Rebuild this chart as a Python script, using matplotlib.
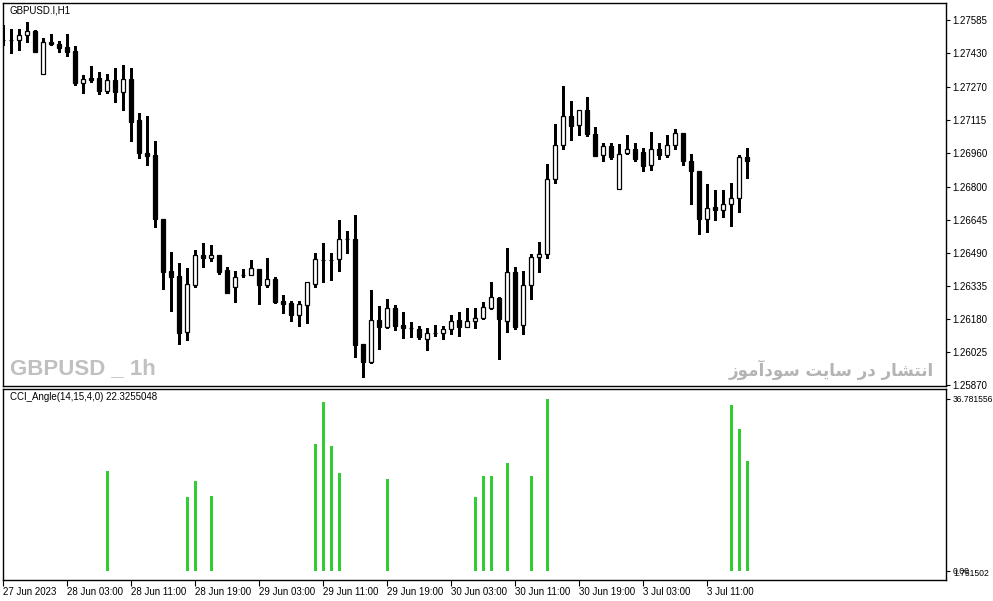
import matplotlib
matplotlib.use('Agg')
import matplotlib.pyplot as plt
import numpy as np

# GBPUSD H1 candles (bar 0 = 27 Jun 19:00)
opens = [1.27489, 1.27491, 1.27489, 1.27511, 1.27531, 1.27328, 1.27480, 1.27470, 1.27456, 1.27437,
         1.27287, 1.27311, 1.27311, 1.27251, 1.27301, 1.27246, 1.27306, 1.27113, 1.26958, 1.26950,
         1.26648, 1.26403, 1.26380, 1.26118, 1.26339, 1.26477, 1.26463, 1.26477, 1.26407, 1.26330,
         1.26383, 1.26383, 1.26413, 1.26339, 1.26364, 1.26262, 1.26253, 1.26198, 1.26245, 1.26344,
         1.26457, 1.26457, 1.26458, 1.26556, 1.26554, 1.26060, 1.25977, 1.26172, 1.26142, 1.26230,
         1.26150, 1.26134, 1.26129, 1.26082, 1.26111, 1.26111, 1.26129, 1.26172, 1.26142, 1.26167,
         1.26181, 1.26228, 1.26275, 1.26167, 1.26397, 1.26148, 1.26336, 1.26468, 1.26482, 1.26834,
         1.26994, 1.27131, 1.27088, 1.27159, 1.27046, 1.26947, 1.26990, 1.26787, 1.26957, 1.26975,
         1.26961, 1.26900, 1.26975, 1.26947, 1.26994, 1.27051, 1.26919, 1.26872, 1.26649, 1.26703,
         1.26689, 1.26717, 1.26745, 1.26938]
highs = [1.27560, 1.27539, 1.27539, 1.27574, 1.27536, 1.27499, 1.27519, 1.27483, 1.27519, 1.27462,
         1.27325, 1.27368, 1.27340, 1.27329, 1.27358, 1.27372, 1.27358, 1.27145, 1.27133, 1.27015,
         1.26649, 1.26493, 1.26441, 1.26418, 1.26502, 1.26536, 1.26527, 1.26478, 1.26424, 1.26403,
         1.26411, 1.26455, 1.26414, 1.26463, 1.26374, 1.26291, 1.26262, 1.26262, 1.26352, 1.26488,
         1.26536, 1.26488, 1.26643, 1.26591, 1.26667, 1.26061, 1.26316, 1.26239, 1.26273, 1.26242,
         1.26211, 1.26164, 1.26145, 1.26137, 1.26150, 1.26145, 1.26197, 1.26211, 1.26230, 1.26230,
         1.26258, 1.26352, 1.26281, 1.26510, 1.26421, 1.26402, 1.26482, 1.26538, 1.26905, 1.27093,
         1.27273, 1.27202, 1.27159, 1.27221, 1.27079, 1.27004, 1.27004, 1.26999, 1.27041, 1.27004,
         1.26980, 1.27055, 1.27004, 1.27041, 1.27069, 1.27052, 1.26952, 1.26873, 1.26811, 1.26783,
         1.26783, 1.26816, 1.26947, 1.26980]
lows = [1.27466, 1.27430, 1.27442, 1.27481, 1.27433, 1.27327, 1.27466, 1.27434, 1.27415, 1.27278,
        1.27241, 1.27293, 1.27235, 1.27241, 1.27199, 1.27162, 1.27016, 1.26936, 1.26903, 1.26612,
        1.26319, 1.26217, 1.26060, 1.26079, 1.26327, 1.26424, 1.26452, 1.26391, 1.26300, 1.26259,
        1.26374, 1.26383, 1.26250, 1.26330, 1.26254, 1.26207, 1.26170, 1.26146, 1.26160, 1.26330,
        1.26350, 1.26363, 1.26405, 1.26489, 1.26001, 1.25907, 1.25972, 1.26037, 1.26137, 1.26126,
        1.26090, 1.26095, 1.26084, 1.26034, 1.26098, 1.26085, 1.26109, 1.26099, 1.26141, 1.26137,
        1.26180, 1.26227, 1.25988, 1.26115, 1.26129, 1.26106, 1.26273, 1.26397, 1.26463, 1.26816,
        1.26975, 1.27018, 1.27041, 1.27037, 1.26943, 1.26919, 1.26928, 1.26787, 1.26952, 1.26919,
        1.26872, 1.26877, 1.26928, 1.26941, 1.26975, 1.26900, 1.26717, 1.26579, 1.26588, 1.26642,
        1.26659, 1.26614, 1.26682, 1.26839]
closes = [1.27489, 1.27491, 1.27513, 1.27530, 1.27434, 1.27478, 1.27472, 1.27453, 1.27434, 1.27288,
          1.27306, 1.27301, 1.27251, 1.27301, 1.27246, 1.27306, 1.27105, 1.26959, 1.26945, 1.26646,
          1.26400, 1.26377, 1.26113, 1.26341, 1.26477, 1.26463, 1.26477, 1.26400, 1.26301, 1.26374,
          1.26383, 1.26416, 1.26339, 1.26364, 1.26259, 1.26250, 1.26198, 1.26247, 1.26352, 1.26458,
          1.26457, 1.26457, 1.26552, 1.26553, 1.26057, 1.25977, 1.26172, 1.26142, 1.26230, 1.26146,
          1.26134, 1.26134, 1.26095, 1.26111, 1.26111, 1.26129, 1.26167, 1.26142, 1.26167, 1.26183,
          1.26233, 1.26280, 1.26176, 1.26397, 1.26142, 1.26336, 1.26468, 1.26482, 1.26834, 1.26994,
          1.27131, 1.27084, 1.27159, 1.27046, 1.26945, 1.26990, 1.26941, 1.26952, 1.26975, 1.26931,
          1.26898, 1.26975, 1.26947, 1.26994, 1.27051, 1.26919, 1.26872, 1.26649, 1.26698, 1.26689,
          1.26717, 1.26745, 1.26938, 1.26919]

# CCI_Angle histogram: only the bars that are drawn
cci_bars = [13, 23, 24, 26, 39, 40, 41, 42, 48, 59, 60, 61, 63, 66, 68, 91, 92, 93]
cci_vals = [21.4, 15.8, 19.2, 16.0, 27.1, 36.1, 26.7, 20.9, 19.6, 15.8, 20.3, 20.3, 23.1,
            20.3, 36.78, 35.5, 30.4, 23.5]

price_ticks = [1.27585, 1.27430, 1.27270, 1.27115, 1.26960, 1.26800, 1.26645, 1.26490,
               1.26335, 1.26180, 1.26025, 1.25870]
time_pos = [0, 8, 16, 24, 32, 40, 48, 56, 64, 72, 80, 88]
time_labels = ['27 Jun 2023', '28 Jun 03:00', '28 Jun 11:00', '28 Jun 19:00', '29 Jun 03:00',
               '29 Jun 11:00', '29 Jun 19:00', '30 Jun 03:00', '30 Jun 11:00', '30 Jun 19:00',
               '3 Jul 03:00', '3 Jul 11:00']

W, H = 993, 601
tick_font = dict(family=['Liberation Sans', 'DejaVu Sans'], size=7)
small_font = dict(tick_font, size=6.2)

fig = plt.figure(figsize=(W / 100, H / 100), dpi=100)
ax = fig.add_axes([2.5 / W, (H - 386) / H, 943.5 / W, 383.5 / H])
ax2 = fig.add_axes([2.5 / W, (H - 580) / H, 943.5 / W, 191 / H])

x = np.arange(len(opens))
o = np.array(opens)
c = np.array(closes)

''' candles '''
ax.vlines(x, lows, highs, color='black', linewidth=1, antialiased=False, zorder=2)
up = c > o
face = np.where(up, 'white', 'black')
ax.bar(x, np.abs(c - o), bottom=np.minimum(o, c), width=0.55, color=face,
       edgecolor='black', linewidth=0.9, zorder=3)

ax.set_xlim(-0.0625, 117.875)
ax.set_ylim(1.25863, 1.27665)
ax.yaxis.tick_right()
ax.set_yticks(price_ticks)
ax.set_yticklabels([f'{p:.5f}' for p in price_ticks], fontdict=tick_font)
ax.tick_params(axis='y', direction='out', length=3, width=0.8, pad=1.5)
ax.set_xticks([])

ax.text(7 / 943.5, 1 - 8 / 383.5, 'GBPUSD.I,H1', transform=ax.transAxes, ha='left', va='center',
        fontdict=tick_font)
ax.text(7 / 943.5, 1 - 366 / 383.5, 'GBPUSD _ 1h', transform=ax.transAxes, ha='left',
        va='center', color='#c0c0c0', fontsize=16, fontweight='bold',
        family=['Liberation Sans', 'DejaVu Sans'])

# Persian watermark in visual order (presentation forms)
fa_text = ('\uFEAF\uFEEE\uFEE3\uFE81\uFEA9\uFEEE\uFEB3 '
           '\uFE96\uFEF3\uFE8E\uFEB3 '
           '\uFEAD\uFEA9 '
           '\uFEAD\uFE8E\uFEB8\uFE98\uFEE7\uFE8D')
ax.text(931 / 943.5, 1 - 367 / 383.5, fa_text, transform=ax.transAxes, ha='right', va='center',
        color='#b4b4b4', fontsize=12, fontweight='bold', family=['DejaVu Sans'])

''' indicator pane '''
ax2.bar(cci_bars, cci_vals, width=0.375, color='#32cd32', linewidth=0)
ax2.set_xlim(-0.0625, 117.875)
ax2.set_ylim(-1.99, 38.92)
ax2.yaxis.tick_right()
ax2.set_yticks([36.781556, 0])
ax2.set_yticklabels(['36.781556', '0.00'], fontdict=small_font)
ax2.tick_params(axis='y', direction='out', length=3, width=0.8, pad=1.5)
ax2.text(953 / W, (H - 573) / H, '1.751502', transform=fig.transFigure, ha='left',
         va='center', fontdict=small_font)
ax2.set_xticks(time_pos)
ax2.set_xticklabels(time_labels, fontdict=tick_font, ha='left')
ax2.tick_params(axis='x', direction='out', length=4, width=0.8, pad=1)
ax2.text(7 / 943.5, 1 - 8 / 191, 'CCI_Angle(14,15,4,0) 22.3255048', transform=ax2.transAxes,
         ha='left', va='center', fontdict=tick_font)

for a in (ax, ax2):
    for s in a.spines.values():
        s.set_linewidth(1)
        s.set_color('black')

fig.savefig('out.png', dpi=100)
